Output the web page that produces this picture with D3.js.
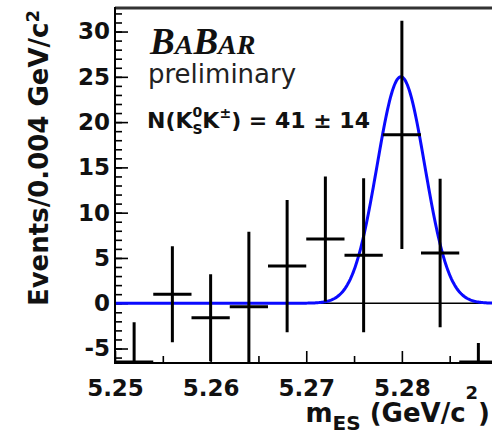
<!DOCTYPE html>
<html>
<head>
<meta charset="utf-8">
<script src="https://cdn.jsdelivr.net/npm/d3@7"></script>
<style>
  body { margin: 0; background: #fff; }
  text { font-family: "DejaVu Sans", sans-serif; }
</style>
</head>
<body>
<svg width="492" height="435"></svg>
<script>
// Data
var binCenters = [5.252, 5.256, 5.260, 5.264, 5.268, 5.272, 5.276, 5.280, 5.284, 5.288];
var counts     = [-6.5, 1.0, -1.6, -0.4, 4.1, 7.1, 5.3, 18.6, 5.55, -6.5];
var errors     = [4.4, 5.3, 4.8, 8.3, 7.3, 6.9, 8.5, 12.6, 8.2, 2.1];
var binWidth = 0.004;

var xTickValues = [5.25, 5.26, 5.27, 5.28];
var xMinorTicks = [5.255, 5.265, 5.275, 5.285];
var yTickValues = [-5, 0, 5, 10, 15, 20, 25, 30];

// Gaussian fit on a flat background
var fitMean = 5.2799;
var fitSigma = 0.0025;
var fitPeak = 25;
var fitBkg = 0;

var svg = d3.select("svg");

// Dimensions and Margin
var margin = { top: 8, left: 115 };
var width = 382.5;
var height = 355;

var chartG = svg.append("g")
    .attr("transform", "translate(" + margin.left + "," + margin.top + ")");

// Scales
var xScale = d3.scaleLinear().domain([5.25, 5.29]).range([0, width]);
var yScale = d3.scaleLinear().domain([-6.6, 32.6]).range([height, 0]);

chartG.append("clipPath")
    .attr("id", "plotClip")
  .append("rect")
    .attr("x", 0).attr("y", 0)
    .attr("width", width).attr("height", height);

// Axes (ticks point inward)
var yMinor = d3.axisLeft(yScale)
    .tickValues(d3.range(-6, 33, 1))
    .tickSize(-7)
    .tickFormat("");
var yAxis = d3.axisLeft(yScale)
    .tickValues(yTickValues)
    .tickSize(-13)
    .tickPadding(5)
    .tickFormat(d => String(d));
var xMinor = d3.axisBottom(xScale)
    .tickValues(xMinorTicks)
    .tickSize(-7)
    .tickFormat("");
var xAxis = d3.axisBottom(xScale)
    .tickValues(xTickValues)
    .tickSize(-12)
    .tickPadding(17)
    .tickFormat(d3.format(".2f"));

chartG.append("g").attr("class", "y minor").call(yMinor);
chartG.append("g").attr("class", "y axis").call(yAxis);
chartG.append("g").attr("class", "x minor")
    .attr("transform", "translate(0," + height + ")").call(xMinor);
chartG.append("g").attr("class", "x axis")
    .attr("transform", "translate(0," + height + ")").call(xAxis);

chartG.selectAll(".domain").remove();
chartG.selectAll(".tick line").attr("stroke", "#000").attr("stroke-width", 1.6);
chartG.selectAll(".axis .tick text")
    .attr("font-family", "DejaVu Sans")
    .attr("font-weight", "bold")
    .attr("font-size", 23)
    .attr("fill", "#111");

// zero line
chartG.append("line")
    .attr("x1", 0).attr("x2", width)
    .attr("y1", yScale(0)).attr("y2", yScale(0))
    .attr("stroke", "#000").attr("stroke-width", 1.5);

// Fit curve
var fitX = d3.range(5.25, 5.29001, 0.0001);
var fitLine = d3.line()
    .x(d => xScale(d))
    .y(d => yScale(fitBkg + fitPeak * Math.exp(-0.5 * Math.pow((d - fitMean) / fitSigma, 2))));

chartG.append("path")
    .datum(fitX)
    .attr("clip-path", "url(#plotClip)")
    .attr("fill", "none")
    .attr("stroke", "#0a0aff")
    .attr("stroke-width", 3)
    .attr("d", fitLine);

// Error bars
var points = binCenters.map((c, i) => ({ x: c, y: counts[i], e: errors[i] }));
var bars = chartG.append("g").attr("clip-path", "url(#plotClip)");

bars.selectAll(".vbar").data(points).enter().append("line")
    .attr("class", "vbar")
    .attr("x1", d => xScale(d.x)).attr("x2", d => xScale(d.x))
    .attr("y1", d => yScale(d.y - d.e)).attr("y2", d => yScale(d.y + d.e))
    .attr("stroke", "#000").attr("stroke-width", 3);

bars.selectAll(".hbar").data(points).enter().append("line")
    .attr("class", "hbar")
    .attr("x1", d => xScale(d.x - binWidth / 2)).attr("x2", d => xScale(d.x + binWidth / 2))
    .attr("y1", d => yScale(d.y)).attr("y2", d => yScale(d.y))
    .attr("stroke", "#000").attr("stroke-width", 3);

// Frame
chartG.append("line").attr("x1", 0).attr("x2", width).attr("y1", 0).attr("y2", 0)
    .attr("stroke", "#333").attr("stroke-width", 3);
chartG.append("line").attr("x1", 0).attr("x2", 0).attr("y1", -1).attr("y2", height + 1)
    .attr("stroke", "#000").attr("stroke-width", 2);
chartG.append("line").attr("x1", 0).attr("x2", width).attr("y1", height).attr("y2", height)
    .attr("stroke", "#000").attr("stroke-width", 2);
chartG.append("line").attr("x1", width).attr("x2", width).attr("y1", 0).attr("y2", height)
    .attr("stroke", "#000").attr("stroke-width", 2);

// Axis titles
var xTitle = svg.append("text")
    .attr("x", 490).attr("y", 422)
    .attr("text-anchor", "end")
    .attr("font-weight", "bold")
    .attr("font-size", 26)
    .attr("fill", "#111");
xTitle.append("tspan").text("m");
xTitle.append("tspan").attr("font-size", 20).attr("dy", 8).text("ES");
xTitle.append("tspan").attr("dy", -8).text(" (GeV/c");
xTitle.append("tspan").attr("font-size", 18).attr("dy", -23).text("2");
xTitle.append("tspan").attr("dy", 23).text(")");

var yTitle = svg.append("text")
    .attr("transform", "translate(48,10) rotate(-90)")
    .attr("text-anchor", "end")
    .attr("font-weight", "bold")
    .attr("font-size", 26)
    .attr("fill", "#111");
yTitle.append("tspan").text("Events/0.004 GeV/c");
yTitle.append("tspan").attr("font-size", 18).attr("dy", -9).text("2");

// Annotations
var logo = svg.append("text")
    .attr("x", 150).attr("y", 54)
    .style("font-family", "'Liberation Serif', serif")
    .attr("font-style", "italic")
    .attr("font-weight", "bold")
    .attr("font-size", 37)
    .attr("fill", "#111");
logo.append("tspan").text("B");
logo.append("tspan").attr("font-size", 28).text("A");
logo.append("tspan").text("B");
logo.append("tspan").attr("font-size", 28).text("AR");

svg.append("text")
    .attr("x", 148).attr("y", 83)
    .attr("font-size", 26)
    .attr("fill", "#222")
    .text("preliminary");

var yieldText = svg.append("text")
    .attr("x", 147).attr("y", 128)
    .attr("font-weight", "bold")
    .attr("font-size", 22)
    .attr("fill", "#111");
yieldText.append("tspan").text("N(K");
yieldText.append("tspan").attr("font-size", 14).attr("dy", 6).text("S");
yieldText.append("tspan").attr("font-size", 14).attr("dx", -10).attr("dy", -17).text("0");
yieldText.append("tspan").attr("dy", 11).text("K");
yieldText.append("tspan").attr("font-size", 14).attr("dy", -10).text("\u00b1");
yieldText.append("tspan").attr("dy", 10).text(") = 41 \u00b1 14");
</script>
</body>
</html>
